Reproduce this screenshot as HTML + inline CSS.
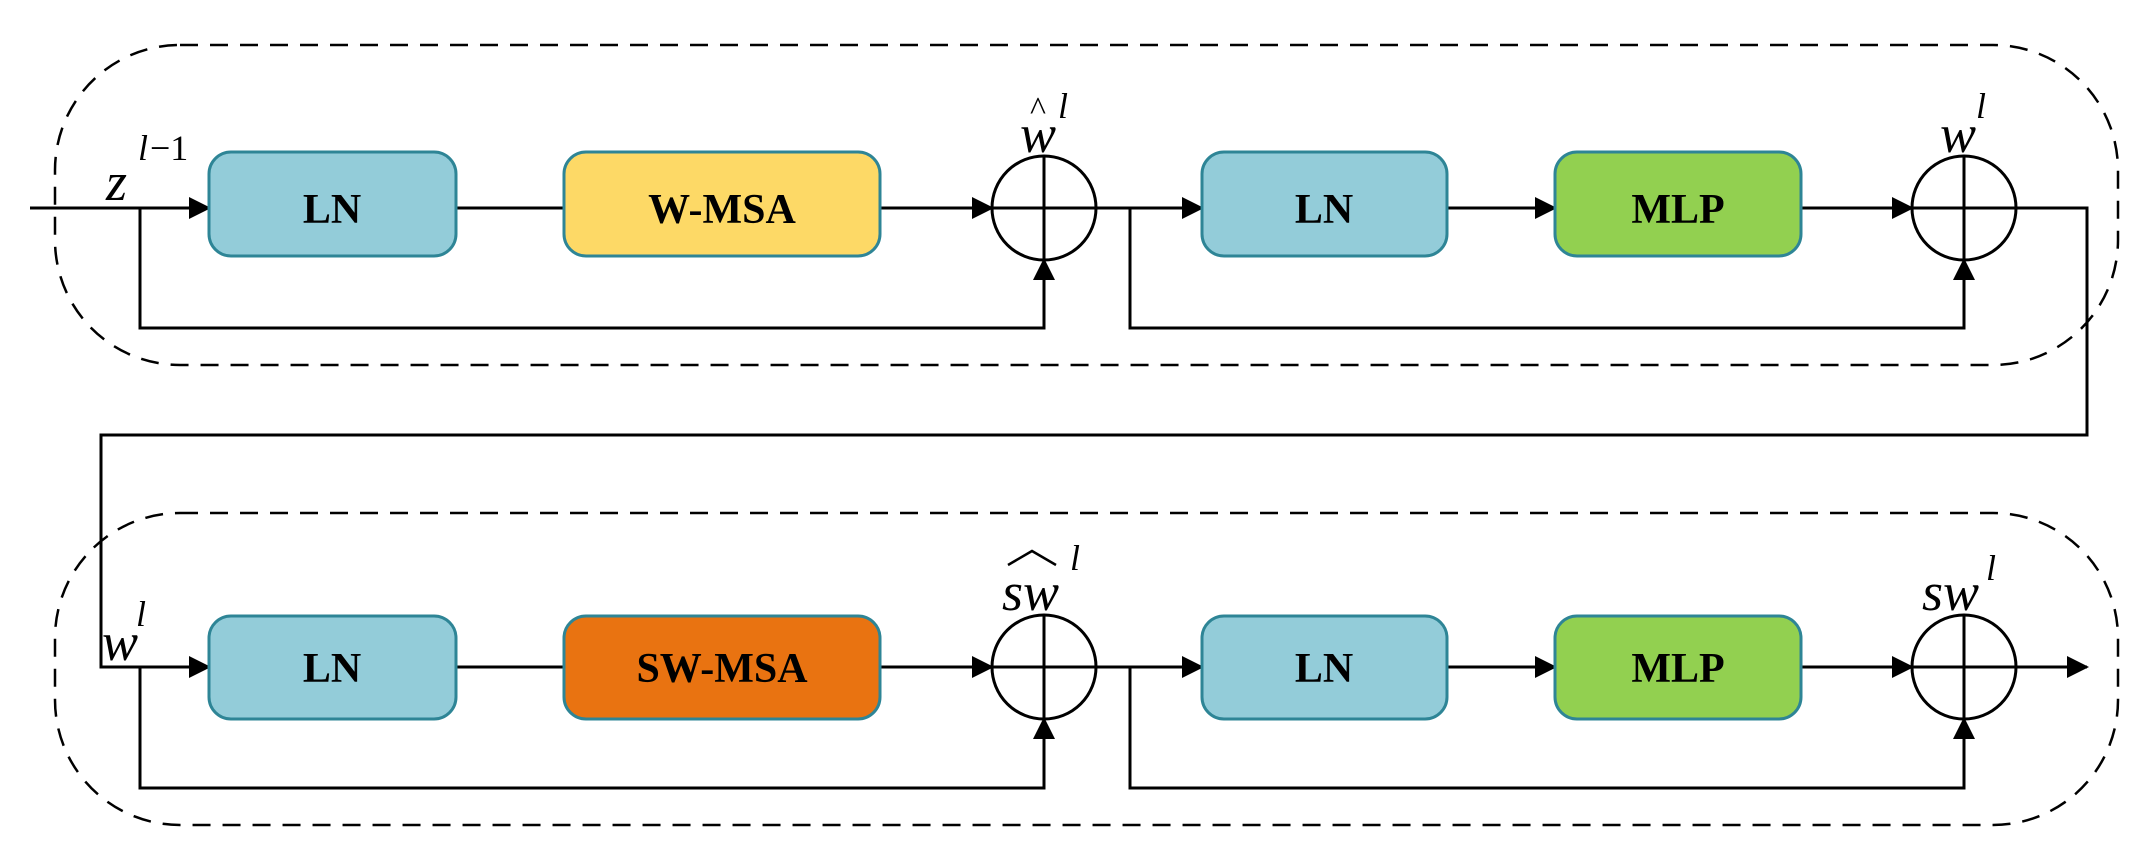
<!DOCTYPE html>
<html><head><style>body{margin:0;background:#fff}</style></head><body>
<svg width="2146" height="855" xmlns="http://www.w3.org/2000/svg" font-family="Liberation Serif, serif">
<defs>
<marker id="ah" markerWidth="22" markerHeight="22" refX="20" refY="11" orient="auto" markerUnits="userSpaceOnUse"><path d="M0,0 L22,11 L0,22z"/></marker></defs>
<g fill="none" stroke="#000" stroke-width="2.5" stroke-dasharray="18,12">
<rect x="55" y="45" width="2063" height="320" rx="125"/>
<rect x="55" y="513" width="2063" height="312" rx="125"/>
</g>
<g stroke="#000" stroke-width="3" fill="none">
<line x1="30" y1="208" x2="209" y2="208" marker-end="url(#ah)"/>
<line x1="456" y1="208" x2="564" y2="208"/>
<line x1="880" y1="208" x2="992" y2="208" marker-end="url(#ah)"/>
<line x1="1096" y1="208" x2="1202" y2="208" marker-end="url(#ah)"/>
<line x1="1447" y1="208" x2="1555" y2="208" marker-end="url(#ah)"/>
<line x1="1801" y1="208" x2="1912" y2="208" marker-end="url(#ah)"/>
<polyline points="140,208 140,328 1044,328 1044,260" marker-end="url(#ah)"/>
<polyline points="1130,208 1130,328 1964,328 1964,260" marker-end="url(#ah)"/>
<polyline points="2016,208 2087,208 2087,435 101,435 101,667 209,667" marker-end="url(#ah)"/>
<line x1="456" y1="667" x2="564" y2="667"/>
<line x1="880" y1="667" x2="992" y2="667" marker-end="url(#ah)"/>
<line x1="1096" y1="667" x2="1202" y2="667" marker-end="url(#ah)"/>
<line x1="1447" y1="667" x2="1555" y2="667" marker-end="url(#ah)"/>
<line x1="1801" y1="667" x2="1912" y2="667" marker-end="url(#ah)"/>
<line x1="2016" y1="667" x2="2087" y2="667" marker-end="url(#ah)"/>
<polyline points="140,667 140,788 1044,788 1044,719" marker-end="url(#ah)"/>
<polyline points="1130,667 1130,788 1964,788 1964,719" marker-end="url(#ah)"/>
<circle cx="1044" cy="208" r="52"/><line x1="992" y1="208" x2="1096" y2="208"/><line x1="1044" y1="156" x2="1044" y2="260"/>
<circle cx="1964" cy="208" r="52"/><line x1="1912" y1="208" x2="2016" y2="208"/><line x1="1964" y1="156" x2="1964" y2="260"/>
<circle cx="1044" cy="667" r="52"/><line x1="992" y1="667" x2="1096" y2="667"/><line x1="1044" y1="615" x2="1044" y2="719"/>
<circle cx="1964" cy="667" r="52"/><line x1="1912" y1="667" x2="2016" y2="667"/><line x1="1964" y1="615" x2="1964" y2="719"/>
</g>
<g stroke="#2e8596" stroke-width="3">
<rect x="209" y="152" width="247" height="104" rx="22" fill="#93ccd9"/>
<rect x="564" y="152" width="316" height="104" rx="22" fill="#fdd966"/>
<rect x="1202" y="152" width="245" height="104" rx="22" fill="#93ccd9"/>
<rect x="1555" y="152" width="246" height="104" rx="22" fill="#92d050"/>
<rect x="209" y="616" width="247" height="103" rx="22" fill="#93ccd9"/>
<rect x="564" y="616" width="316" height="103" rx="22" fill="#e97311"/>
<rect x="1202" y="616" width="245" height="103" rx="22" fill="#93ccd9"/>
<rect x="1555" y="616" width="246" height="103" rx="22" fill="#92d050"/>
</g>
<g font-weight="bold" font-size="42" text-anchor="middle">
<text x="332" y="223">LN</text><text x="722" y="223">W-MSA</text>
<text x="1324" y="223">LN</text><text x="1678" y="223">MLP</text>
<text x="332" y="682">LN</text><text x="722" y="682">SW-MSA</text>
<text x="1324" y="682">LN</text><text x="1678" y="682">MLP</text>
</g>
<g font-style="italic" font-size="54">
<text x="106" y="200">z</text><text x="138" y="160" font-size="36">l</text><text x="150" y="160" font-size="36" font-style="normal">−1</text>
<text x="1020" y="152">w</text><text x="1030" y="120" font-size="34" font-style="normal">^</text><text x="1058" y="118" font-size="36">l</text>
<text x="1940" y="152">w</text><text x="1976" y="118" font-size="36">l</text>
<text x="102" y="660">w</text><text x="136" y="626" font-size="36">l</text>
<text x="1002" y="610">sw</text><text x="1070" y="570" font-size="36">l</text>
<text x="1922" y="610">sw</text><text x="1986" y="580" font-size="36">l</text>
</g>
<polyline points="1008,565 1032,551 1056,565" fill="none" stroke="#000" stroke-width="2.5"/>
</svg>
</body></html>
